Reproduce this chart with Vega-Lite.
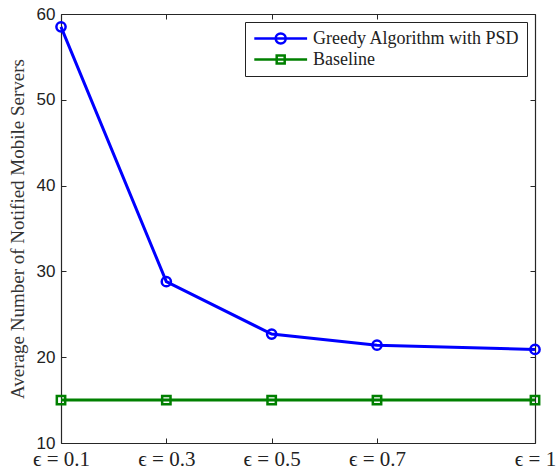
{
  "$schema": "https://vega.github.io/schema/vega-lite/v6.json",
  "autosize": {"type": "none"},
  "padding": {"left": 61, "top": 14, "right": 22, "bottom": 27},
  "width": 474,
  "height": 429,
  "background": "white",
  "config": {
    "view": {"stroke": null},
    "axis": {"grid": false, "domainColor": "#262626", "tickColor": "#262626", "domainWidth": 1.2, "tickWidth": 1, "tickSize": -5}
  },
  "data": {"values": [
    {"eps": 0.1, "value": 58.5, "series": "Greedy Algorithm with PSD"},
    {"eps": 0.3, "value": 28.8, "series": "Greedy Algorithm with PSD"},
    {"eps": 0.5, "value": 22.7, "series": "Greedy Algorithm with PSD"},
    {"eps": 0.7, "value": 21.4, "series": "Greedy Algorithm with PSD"},
    {"eps": 1.0, "value": 20.9, "series": "Greedy Algorithm with PSD"},
    {"eps": 0.1, "value": 15.0, "series": "Baseline"},
    {"eps": 0.3, "value": 15.0, "series": "Baseline"},
    {"eps": 0.5, "value": 15.0, "series": "Baseline"},
    {"eps": 0.7, "value": 15.0, "series": "Baseline"},
    {"eps": 1.0, "value": 15.0, "series": "Baseline"}
  ]},
  "layer": [
    {
      "mark": {"type": "line", "strokeWidth": 3, "clip": false},
      "encoding": {
        "x": {"field": "eps", "type": "quantitative", "scale": {"domain": [0.1, 1], "nice": false, "zero": false},
          "axis": {"orient": "bottom", "values": [0.1, 0.3, 0.5, 0.7, 1], "title": null, "labelExpr": "'ϵ = ' + datum.value",
            "labelFont": "Liberation Serif", "labelFontSize": 21, "labelColor": "#222", "labelPadding": 10, "labelFlush": false, "labelOverlap": false}},
        "y": {"field": "value", "type": "quantitative", "scale": {"domain": [10, 60], "nice": false, "zero": false},
          "axis": {"orient": "left", "values": [10, 20, 30, 40, 50, 60], "title": "Average Number of Notified Mobile Servers",
            "titleFont": "Liberation Serif", "titleFontSize": 19, "titleFontWeight": "normal", "titleColor": "#333", "titlePadding": 9,
            "labelFont": "Liberation Sans", "labelFontSize": 17, "labelColor": "#222", "labelPadding": 11, "labelFlush": false}},
        "color": {"field": "series", "type": "nominal", "sort": ["Greedy Algorithm with PSD", "Baseline"],
          "scale": {"domain": ["Greedy Algorithm with PSD", "Baseline"], "range": ["#0000ff", "#008000"]},
          "legend": {"title": null, "orient": "top-right", "offset": 8,
            "labelFont": "Liberation Serif", "labelFontSize": 18, "labelColor": "#222", "labelOffset": 42, "labelLimit": 400,
            "symbolSize": 256, "symbolStrokeWidth": 2.5,
            "strokeColor": "#222", "fillColor": "white", "padding": 7, "rowPadding": 1,
            "encode": {"symbols": {"update": {
              "shape": {"signal": "datum.value === 'Baseline' ? 'M-0.9,0L5.7,0M1.9,-0.5L2.9,-0.5L2.9,0.5L1.9,0.5Z' : 'M-0.9,0L5.7,0M1.775,0A0.625,0.625 0 1,1 3.025,0A0.625,0.625 0 1,1 1.775,0'"},
              "fill": {"value": "transparent"}}}}}}
      }
    },
    {
      "transform": [{"filter": "datum.series === 'Greedy Algorithm with PSD'"}],
      "mark": {"type": "point", "shape": "circle", "filled": false, "strokeWidth": 2.5, "size": 85, "opacity": 1, "clip": false},
      "encoding": {
        "x": {"field": "eps", "type": "quantitative",
          "axis": {"orient": "top", "values": [0.1, 0.3, 0.5, 0.7, 1], "title": null, "labels": false}},
        "y": {"field": "value", "type": "quantitative",
          "axis": {"orient": "right", "values": [10, 20, 30, 40, 50, 60], "title": null, "labels": false}},
        "color": {"field": "series", "type": "nominal", "legend": null}
      }
    },
    {
      "transform": [{"filter": "datum.series === 'Baseline'"}],
      "mark": {"type": "point", "shape": "square", "filled": false, "strokeWidth": 2.5, "size": 70, "opacity": 1, "clip": false},
      "encoding": {
        "x": {"field": "eps", "type": "quantitative", "axis": null},
        "y": {"field": "value", "type": "quantitative", "axis": null},
        "color": {"field": "series", "type": "nominal", "legend": null}
      }
    }
  ],
  "resolve": {"axis": {"x": "independent", "y": "independent"}}
}
